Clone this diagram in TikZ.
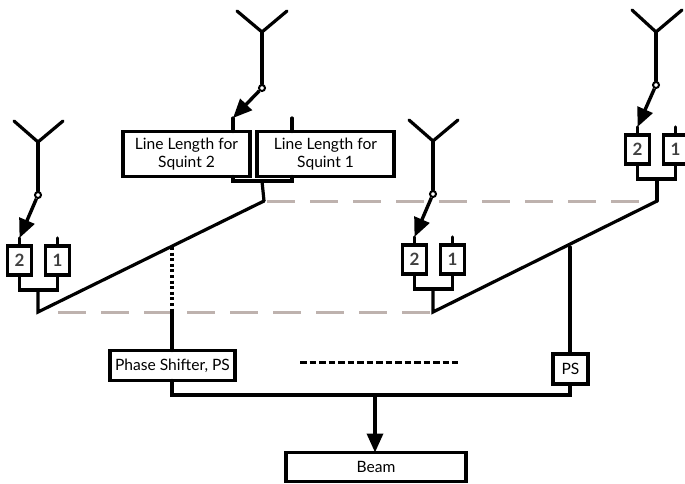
\documentclass[tikz,border=0pt]{standalone}
\usepackage{fontspec}
\setmainfont{Lato}
\usepackage{xcolor}
\usetikzlibrary{arrows.meta,positioning,calc}
\definecolor{levelgray}{RGB}{190,178,174}

\begin{document}
\begin{tikzpicture}[
  x=1pt, y=-1pt,
  node distance=13pt,
  element/.style={rectangle, draw=black, line width=3.4pt, fill=white, outer sep=0pt, inner sep=0pt, minimum width=24pt, minimum height=29pt, font=\fontsize{17}{17}\selectfont\bfseries, text=black!75},
  linebox/.style={rectangle, draw=black, line width=3.2pt, fill=white, outer sep=0pt, inner sep=0pt, minimum height=45pt, align=center, font=\fontsize{15.6}{18}\selectfont},
  psbox/.style={rectangle, draw=black, line width=3.2pt, fill=white, outer sep=0pt, inner sep=0pt, font=\fontsize{15.6}{18}\selectfont},
  pivot/.style={circle, draw=black, line width=2pt, fill=white, inner sep=0pt, minimum size=6pt},
  wire/.style={black, line width=3.2pt, line cap=round, line join=miter},
  feed/.style={black, line width=3.4pt, -{Triangle[length=19pt,width=16pt]}},
  level/.style={levelgray, line width=3pt, dash pattern=on 28pt off 15pt},
  dots/.style={black, line width=3.2pt, dash pattern=on 3pt off 2.6pt}
]
\useasboundingbox (0,0) rectangle (685,483);

% levels
\coordinate (lowa) at (38,312);
\coordinate (lowb) at (433,312);
\coordinate (upa) at (264,201);
\coordinate (upb) at (657,201);
\draw[level] ($(lowa)+(20,0)$) -- (lowb);
\draw[level] ($(upa)+(3,0)$) -- ($(upb)+(-17,0)$);

% antenna A
\coordinate (fa) at (38,142);
\coordinate (la) at (14,121);
\coordinate (ra) at (63,121);
\node[pivot, below=49pt of fa] (pa) {};
\node[element] (ba2) at (19.5,260.5) {2};
\node[element, right=14pt of ba2] (ba1) {1};
\coordinate (sa2) at (19.5,238);
\coordinate (sa1) at (57.5,238);
\draw[wire] (la) -- (fa) -- (ra);
\draw[wire] (fa) -- (pa);
\draw[wire] (sa2) -- (ba2);
\draw[wire] (sa1) -- (ba1);
\draw[feed] (pa) -- (sa2);
\draw[wire] (ba2.south) |- (ba1.south |- 0,290) -- (ba1.south);
\draw[wire] (38,290) -- (lowa) -- (upa);

% antenna B
\coordinate (fb) at (262,32);
\coordinate (lb) at (237,11);
\coordinate (rb) at (287,11);
\node[pivot, below=52pt of fb] (pb) {};
\node[linebox, minimum width=127pt] (bb2) at (186.5,154) {Line Length for\\Squint 2};
\node[linebox, minimum width=137pt, right=7pt of bb2] (bb1) {Line Length for\\Squint 1};
\coordinate (sb2) at (233,118);
\coordinate (sb1) at (292,118);
\draw[wire] (lb) -- (fb) -- (rb);
\draw[wire] (fb) -- (pb);
\draw[wire] (sb2) -- (sb2 |- bb2.north);
\draw[wire] (sb1) -- (sb1 |- bb1.north);
\draw[feed] (pb) -- (sb2);
\draw[wire] (sb2 |- bb2.south) -- (233,181) -- (292,181) -- (sb1 |- bb1.south);
\draw[wire] (262,181) -- (upa);

% antenna C
\coordinate (fc) at (433,141);
\coordinate (lc) at (409,120);
\coordinate (rc) at (458,120);
\node[pivot, below=49pt of fc] (pc) {};
\node[element] (bc2) at (414.5,259.5) {2};
\node[element, right=14pt of bc2] (bc1) {1};
\coordinate (sc2) at (414.5,237);
\coordinate (sc1) at (452.5,237);
\draw[wire] (lc) -- (fc) -- (rc);
\draw[wire] (fc) -- (pc);
\draw[wire] (sc2) -- (bc2);
\draw[wire] (sc1) -- (bc1);
\draw[feed] (pc) -- (sc2);
\draw[wire] (bc2.south) |- (bc1.south |- 0,289) -- (bc1.south);
\draw[wire] (433,289) -- (lowb) -- (upb);

% antenna D
\coordinate (fd) at (656,32);
\coordinate (ld) at (632,10);
\coordinate (rd) at (682,10);
\node[pivot, below=49pt of fd] (pd) {};
\node[element] (bd2) at (637.5,149.5) {2};
\node[element, right=14pt of bd2] (bd1) {1};
\coordinate (sd2) at (637.5,127);
\coordinate (sd1) at (675.5,127);
\draw[wire] (ld) -- (fd) -- (rd);
\draw[wire] (fd) -- (pd);
\draw[wire] (sd2) -- (bd2);
\draw[wire] (sd1) -- (bd1);
\draw[feed] (pd) -- (sd2);
\draw[wire] (bd2.south) |- (bd1.south |- 0,179) -- (bd1.south);
\draw[wire] (657,179) -- (upb);

% combiner
\coordinate (ja) at (172,247);
\coordinate (jb) at (570,247);
\node[psbox, minimum width=125pt, minimum height=30pt] (psa) at (172.5,365.5) {Phase Shifter, PS};
\node[psbox, minimum width=35pt, minimum height=30pt] (psb) at (570.5,369) {PS};
\node[linebox, minimum width=180pt, minimum height=29pt] (beam) at (376,467) {Beam};
\coordinate (busc) at (375,395);
\draw[dots] (ja) -- (172,312);
\draw[wire] (172,312) -- (psa.north -| 172,0);
\draw[wire] (jb) -- (psb.north -| 570,0);
\draw[wire] (psa.south -| 172,0) |- (busc) -| (psb.south -| 570,0);
\draw[feed] (busc) -- (busc |- beam.north);
\coordinate (moa) at (300,362);
\coordinate (mob) at (458,362);
\draw[black, line width=3pt, dash pattern=on 6.5pt off 3pt] (moa) -- (mob);
\end{tikzpicture}
\end{document}
